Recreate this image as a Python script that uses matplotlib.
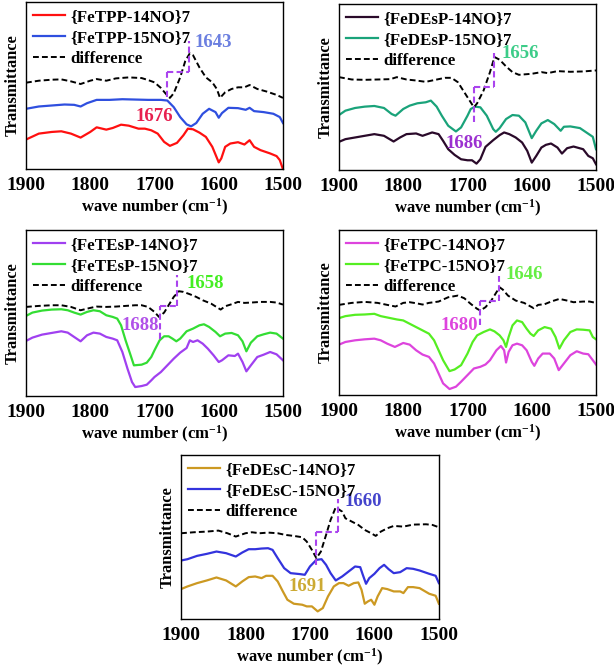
import numpy as np
import matplotlib
matplotlib.use("Agg")
import matplotlib.pyplot as plt

plt.rcParams['font.family'] = 'Liberation Serif'
plt.rcParams['font.weight'] = 'bold'
plt.rcParams['mathtext.fontset'] = 'custom'
plt.rcParams['mathtext.rm'] = 'Liberation Serif:bold'
plt.rcParams['mathtext.bf'] = 'Liberation Serif:bold'
plt.rcParams['mathtext.default'] = 'bf'

# readings: depth below the frame top (arbitrary units), per wave number (cm-1)

# ---- FeTPP ----
tpp14_wn = [1900, 1880, 1860, 1845, 1830, 1815, 1800, 1790, 1775, 1765, 1752, 1740, 1725, 1715, 1705, 1695,
            1685, 1676, 1665, 1655, 1648, 1640, 1630, 1620, 1610, 1600, 1596, 1590, 1582, 1570, 1560, 1552,
            1545, 1535, 1520, 1510, 1505, 1500]
tpp14 = [418, 400, 395, 393, 400, 412, 395, 381, 388, 383, 373, 376, 385, 385, 390, 400,
         425, 437, 428, 405, 385, 387, 397, 410, 440, 487, 475, 440, 430, 426, 433, 420,
         440, 450, 460, 468, 480, 508]
tpp15_wn = [1900, 1880, 1860, 1840, 1825, 1815, 1805, 1790, 1770, 1750, 1730, 1710, 1690, 1680, 1670, 1660,
            1650, 1643, 1635, 1625, 1615, 1605, 1600, 1595, 1585, 1570, 1558, 1552, 1545, 1530, 1515, 1505, 1500]
tpp15 = [325, 318, 315, 312, 313, 318, 308, 298, 298, 296, 297, 298, 298, 300, 320, 350,
         372, 378, 368, 340, 325, 335, 352, 338, 322, 323, 328, 322, 332, 335, 340, 350, 368]
tppd_wn = [1900, 1880, 1860, 1845, 1830, 1815, 1800, 1790, 1775, 1760, 1740, 1720, 1710, 1700, 1690, 1680,
           1676, 1670, 1660, 1652, 1645, 1640, 1630, 1620, 1610, 1603, 1598, 1590, 1580, 1570, 1560, 1552,
           1540, 1525, 1510, 1500]
tppd = [246, 240, 237, 236, 242, 250, 240, 235, 240, 233, 230, 232, 238, 245, 262, 285,
        292, 278, 230, 180, 157, 163, 200, 230, 245, 265, 292, 275, 265, 260, 260, 253,
        265, 273, 283, 292]

# ---- FeDEsP ----
desp14_wn = [1900, 1890, 1875, 1860, 1845, 1830, 1815, 1805, 1795, 1780, 1770, 1755, 1745, 1738, 1730, 1720,
             1710, 1700, 1693, 1686, 1680, 1672, 1660, 1650, 1643, 1635, 1625, 1615, 1607, 1600, 1593, 1585,
             1578, 1570, 1560, 1553, 1545, 1535, 1520, 1512, 1505, 1500]
desp14 = [423, 415, 410, 405, 400, 405, 422, 410, 400, 398, 405, 395, 400, 420, 445, 462,
          475, 478, 478, 488, 475, 438, 418, 403, 395, 400, 410, 425, 450, 485, 465, 440,
          432, 428, 440, 458, 442, 437, 445, 465, 472, 490]
desp15_wn = [1900, 1890, 1875, 1860, 1845, 1830, 1818, 1812, 1800, 1790, 1778, 1765, 1757, 1748, 1740, 1730,
             1718, 1710, 1700, 1695, 1688, 1680, 1670, 1660, 1656, 1650, 1640, 1630, 1620, 1610, 1600, 1593,
             1585, 1575, 1565, 1555, 1550, 1540, 1525, 1515, 1505, 1500]
desp15 = [343, 330, 322, 318, 316, 322, 340, 345, 325, 315, 308, 305, 300, 318, 345, 375,
          392, 380, 345, 325, 318, 320, 345, 385, 393, 382, 355, 343, 345, 365, 412, 390,
          368, 358, 370, 390, 378, 377, 382, 395, 408, 445]
despd_wn = [1900, 1880, 1860, 1840, 1820, 1810, 1795, 1780, 1765, 1750, 1735, 1725, 1715, 1705, 1695, 1690,
            1685, 1675, 1665, 1658, 1650, 1640, 1630, 1620, 1600, 1585, 1575, 1560, 1540, 1520, 1500]
despd = [230, 237, 238, 237, 236, 230, 237, 240, 244, 238, 232, 232, 245, 275, 305, 320,
         308, 270, 215, 170, 178, 198, 215, 223, 220, 215, 218, 212, 214, 213, 210]

# ---- FeTEsP ----
tesp14_wn = [1900, 1890, 1875, 1860, 1845, 1835, 1825, 1815, 1805, 1795, 1785, 1775, 1765, 1758, 1750, 1742,
             1735, 1730, 1720, 1712, 1705, 1700, 1690, 1680, 1670, 1660, 1650, 1645, 1640, 1633, 1625, 1617,
             1608, 1600, 1595, 1585, 1575, 1570, 1563, 1557, 1550, 1540, 1530, 1520, 1510, 1500]
tesp14 = [347, 337, 328, 323, 318, 322, 335, 348, 330, 322, 325, 335, 340, 345, 380, 430,
          470, 485, 482, 478, 465, 455, 440, 420, 400, 382, 368, 345, 350, 345, 355, 370,
          390, 410, 405, 390, 392, 385, 410, 438, 420, 395, 388, 380, 387, 405]
tesp15_wn = [1900, 1890, 1875, 1860, 1845, 1835, 1825, 1815, 1805, 1795, 1785, 1775, 1765, 1758, 1752, 1745,
             1738, 1732, 1720, 1712, 1705, 1700, 1692, 1685, 1678, 1672, 1666, 1660, 1650, 1640, 1630, 1623,
             1615, 1605, 1598, 1590, 1580, 1570, 1563, 1557, 1550, 1540, 1530, 1520, 1510, 1500]
tesp15 = [272, 262, 256, 253, 252, 255, 262, 268, 260, 255, 258, 270, 275, 280, 300, 345,
          385, 420, 418, 412, 395, 375, 345, 333, 333, 340, 348, 340, 318, 310, 300, 297,
          305, 320, 333, 325, 323, 330, 348, 378, 352, 333, 327, 322, 325, 340]
tespd_wn = [1900, 1880, 1860, 1845, 1830, 1815, 1800, 1790, 1775, 1760, 1745, 1730, 1720, 1710, 1700, 1693,
            1685, 1678, 1670, 1662, 1655, 1645, 1635, 1625, 1612, 1597, 1590, 1580, 1570, 1560, 1550, 1535,
            1520, 1510, 1500]
tespd = [245, 242, 240, 240, 245, 255, 248, 244, 245, 244, 242, 240, 240, 245, 260, 275,
         262, 240, 215, 198, 200, 207, 215, 225, 235, 253, 243, 237, 230, 233, 232, 230,
         230, 232, 238]

# ---- FeTPC ----
tpc14_wn = [1900, 1890, 1875, 1860, 1845, 1835, 1825, 1813, 1800, 1790, 1780, 1770, 1760, 1752, 1745, 1738,
            1728, 1718, 1710, 1700, 1690, 1680, 1672, 1665, 1655, 1648, 1643, 1640, 1636, 1630, 1623, 1615,
            1608, 1600, 1596, 1590, 1583, 1572, 1565, 1558, 1550, 1540, 1530, 1520, 1512, 1505, 1500]
tpc14 = [358, 350, 345, 342, 340, 345, 355, 365, 353, 358, 375, 388, 395, 415, 445, 475,
         492, 485, 470, 450, 430, 425, 418, 405, 375, 362, 375, 412, 380, 360, 355, 360,
         375, 410, 422, 400, 385, 385, 400, 435, 415, 390, 378, 385, 387, 405, 418]
tpc15_wn = [1900, 1890, 1875, 1860, 1845, 1835, 1820, 1810, 1800, 1790, 1780, 1770, 1760, 1752, 1745, 1738,
            1728, 1720, 1710, 1700, 1692, 1685, 1675, 1665, 1658, 1650, 1644, 1640, 1636, 1630, 1623, 1615,
            1608, 1602, 1597, 1590, 1580, 1570, 1563, 1557, 1550, 1540, 1530, 1520, 1510, 1505, 1500]
tpc15 = [278, 272, 268, 267, 265, 272, 278, 282, 285, 295, 305, 315, 325, 345, 375, 405,
         438, 433, 420, 385, 350, 330, 320, 312, 318, 330, 345, 365, 335, 300, 285, 290,
         310, 325, 332, 315, 305, 310, 335, 370, 345, 320, 312, 313, 315, 335, 342]
tpcd_wn = [1900, 1880, 1860, 1840, 1825, 1812, 1800, 1790, 1780, 1770, 1760, 1745, 1730, 1715, 1705, 1695,
           1685, 1680, 1672, 1663, 1655, 1650, 1645, 1637, 1625, 1612, 1597, 1590, 1580, 1570, 1557, 1545,
           1535, 1520, 1510, 1500]
tpcd = [238, 232, 229, 232, 238, 243, 232, 230, 233, 237, 232, 228, 215, 210, 218, 235,
        250, 255, 245, 225, 200, 185, 192, 210, 225, 232, 248, 238, 236, 228, 220, 225,
        230, 228, 228, 232]

# ---- FeDEsC ----
desc14_wn = [1900, 1890, 1875, 1860, 1845, 1830, 1815, 1805, 1795, 1785, 1775, 1768, 1758, 1750, 1742, 1735,
             1725, 1712, 1705, 1697, 1688, 1680, 1672, 1663, 1655, 1648, 1640, 1632, 1625, 1620, 1615, 1610,
             1605, 1600, 1595, 1588, 1580, 1570, 1560, 1555, 1548, 1540, 1530, 1515, 1505, 1500]
desc14 = [418, 410, 400, 392, 383, 392, 410, 395, 382, 380, 385, 378, 378, 395, 425, 450,
          462, 465, 470, 470, 485, 475, 440, 410, 400, 400, 408, 400, 398, 420, 462, 455,
          450, 465, 440, 415, 418, 425, 425, 430, 412, 412, 415, 432, 438, 462]
desc15_wn = [1900, 1890, 1875, 1860, 1845, 1830, 1815, 1805, 1795, 1785, 1775, 1765, 1758, 1750, 1740, 1730,
             1715, 1708, 1700, 1690, 1682, 1675, 1668, 1660, 1650, 1640, 1630, 1622, 1618, 1613, 1608, 1600,
             1592, 1585, 1578, 1570, 1560, 1550, 1540, 1530, 1515, 1505, 1500]
desc15 = [332, 328, 318, 312, 305, 310, 320, 308, 298, 298, 296, 295, 300, 325, 355, 370,
          373, 375, 350, 330, 328, 345, 370, 392, 380, 365, 350, 352, 375, 402, 385, 372,
          355, 345, 358, 370, 367, 355, 357, 362, 372, 378, 400]
descd_wn = [1900, 1880, 1860, 1842, 1828, 1815, 1800, 1790, 1778, 1765, 1750, 1738, 1725, 1712, 1705, 1697,
            1690, 1683, 1675, 1668, 1660, 1650, 1645, 1635, 1625, 1615, 1605, 1598, 1590, 1580, 1570, 1555,
            1540, 1520, 1510, 1500]
descd = [250, 247, 245, 242, 250, 260, 250, 247, 250, 248, 250, 255, 258, 262, 275, 300,
         325, 305, 255, 210, 172, 185, 205, 215, 225, 240, 250, 258, 245, 235, 228, 230,
         224, 223, 225, 232]

# peak labels (text), and where the bracket / labels sit
peak_low = ["1676", "1686", "1688", "1680", "1691"]
peak_high = ["1643", "1656", "1658", "1646", "1660"]


def tr(v):
    # depth reading -> transmittance (arbitrary offset units)
    return (600 - np.asarray(v, dtype=float)) / 100.0


panels = [
    dict(rect=[0.0423, 0.7474, 0.4186, 0.2496],
         series=[(tpp14_wn, tpp14, "#ff1010", "{FeTPP-14NO}7"),
                 (tpp15_wn, tpp15, "#2f4fdf", "{FeTPP-15NO}7"),
                 (tppd_wn, tppd, "black", "difference")],
         low=(1681, 290, "#e8204f", 1701, 348), high=(1647, 120, "#6b7fe0", 1608, 125),
         mid=215, ylim=(507, 2)),
    dict(rect=[0.5521, 0.7459, 0.4186, 0.2480],
         series=[(desp14_wn, desp14, "#2a0a2a", "{FeDEsP-14NO}7"),
                 (desp15_wn, desp15, "#1aa37a", "{FeDEsP-15NO}7"),
                 (despd_wn, despd, "black", "difference")],
         low=(1690, 365, "#9b30d0", 1705, 427), high=(1658, 158, "#3ccc88", 1618, 160),
         mid=260, ylim=(507, 12)),
    dict(rect=[0.0423, 0.4080, 0.4186, 0.2480],
         series=[(tesp14_wn, tesp14, "#a040f0", "{FeTEsP-14NO}7"),
                 (tesp15_wn, tesp15, "#33dd33", "{FeTEsP-15NO}7"),
                 (tespd_wn, tespd, "black", "difference")],
         low=(1691, 340, "#b050e8", 1722, 300), high=(1665, 148, "#44ee22", 1621, 175),
         mid=242, ylim=(512, 15)),
    dict(rect=[0.5521, 0.4096, 0.4186, 0.2466],
         series=[(tpc14_wn, tpc14, "#dd44dd", "{FeTPC-14NO}7"),
                 (tpc15_wn, tpc15, "#55ee22", "{FeTPC-15NO}7"),
                 (tpcd_wn, tpcd, "black", "difference")],
         low=(1680, 298, "#dd44dd", 1713, 300), high=(1651, 150, "#66ee44", 1612, 145),
         mid=225, ylim=(510, 12)),
    dict(rect=[0.2948, 0.0747, 0.4200, 0.2450],
         series=[(desc14_wn, desc14, "#cc9922", "{FeDEsC-14NO}7"),
                 (desc15_wn, desc15, "#3333dd", "{FeDEsC-15NO}7"),
                 (descd_wn, descd, "black", "difference")],
         low=(1691, 345, "#ccaa33", 1704, 410), high=(1657, 148, "#4444cc", 1617, 155),
         mid=245, ylim=(508, 15)),
]

fig = plt.figure(figsize=(6.14, 6.69), dpi=100)

for i, p in enumerate(panels):
    ax = fig.add_axes(p["rect"])
    for wn, v, col, lab in p["series"]:
        if lab == "difference":
            ax.plot(wn, tr(v), color=col, lw=1.4, ls=(0, (3, 1.6)), label=lab)
        else:
            ax.plot(wn, tr(v), color=col, lw=1.6, label=lab)

    # purple bracket marking the 14NO -> 15NO shift
    lx, ly, lcol, ltx, lty = p["low"]
    hx, hy, hcol, htx, hty = p["high"]
    m = p["mid"]
    br = dict(color="#aa44ee", lw=1.5, ls=(0, (3, 1.6)))
    ax.plot([lx, lx], tr([ly, m]), **br)
    ax.plot([lx, hx], tr([m, m]), **br)
    ax.plot([hx, hx], tr([m, hy]), **br)
    ax.text(ltx, tr(lty), peak_low[i], color=lcol, fontsize=13.5,
            fontweight="bold", ha="center", va="center")
    ax.text(htx, tr(hty), peak_high[i], color=hcol, fontsize=13.5,
            fontweight="bold", ha="center", va="center")

    ax.set_xlim(1900, 1500)
    ax.set_xticks([1900, 1800, 1700, 1600, 1500])
    ax.set_ylim(tr(p["ylim"][0]), tr(p["ylim"][1]))
    ax.set_yticks([])
    ax.tick_params(axis="x", length=0, pad=6, labelsize=14)
    for lbl in ax.get_xticklabels():
        lbl.set_fontweight("bold")
    ax.set_xlabel("wave number (cm$^{-1}$)", fontsize=12, fontweight="bold", labelpad=2)
    ax.set_ylabel("Transmittance", fontsize=11.8, fontweight="bold", labelpad=4)
    for s in ax.spines.values():
        s.set_linewidth(1.0)
    ax.legend(loc="upper left", frameon=False, handlelength=1.9,
              handletextpad=0.3, labelspacing=0.3, borderaxespad=0.2, borderpad=0.2,
              prop={"weight": "bold", "size": 12.2})

fig.savefig("out.png", dpi=100)
